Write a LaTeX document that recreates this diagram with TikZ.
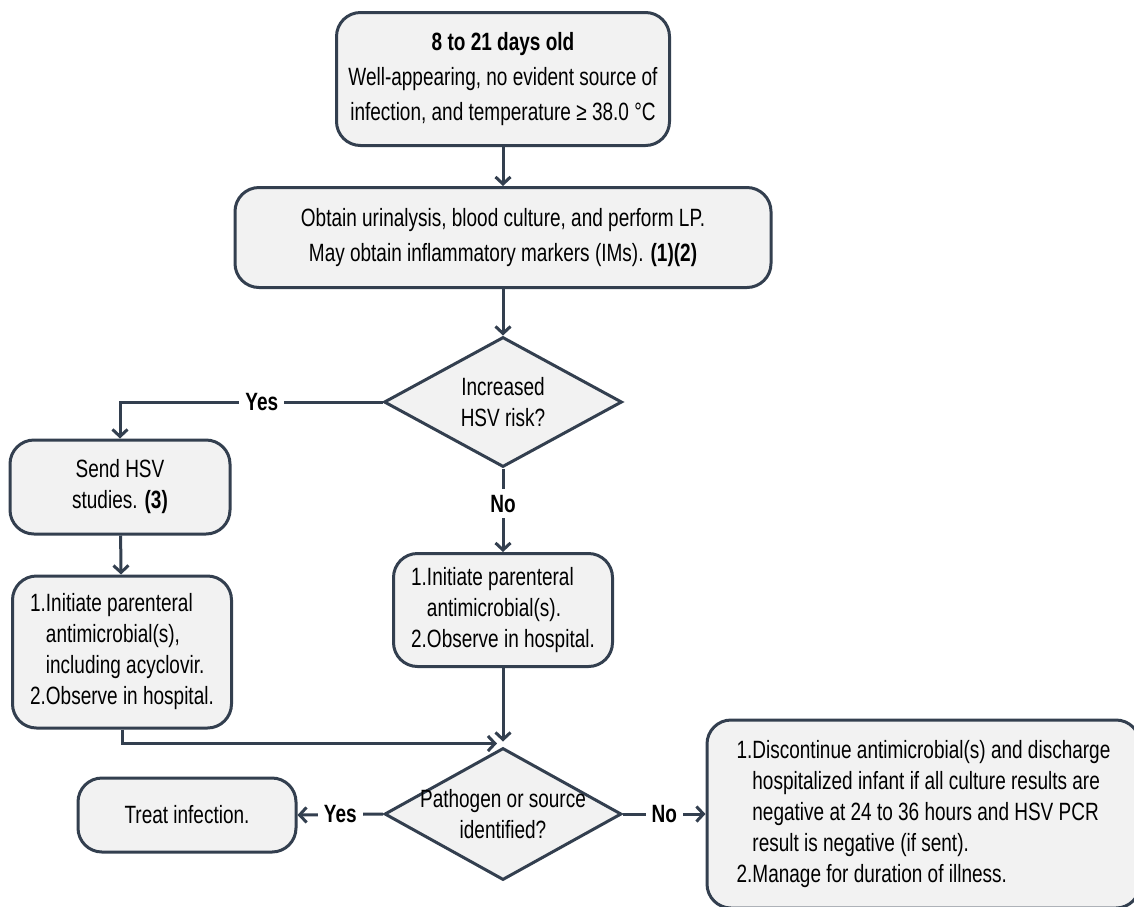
\documentclass[tikz,border=0pt]{standalone}
\usepackage{fontspec}
\setmainfont{Liberation Sans}[FakeStretch=0.76]
\usetikzlibrary{shapes.geometric,arrows.meta}
\definecolor{edgecol}{HTML}{333F4F}
\definecolor{boxfill}{HTML}{F2F2F2}
\tikzset{
  box/.style={draw=edgecol,fill=boxfill,line width=3pt,rounded corners=24pt,align=center,inner sep=0pt},
  dec/.style={draw=edgecol,fill=boxfill,line width=3pt,diamond,inner sep=0pt},
  arr/.style={draw=edgecol,line width=3pt,-{Straight Barb[length=7pt,width=15pt]}},
  lbl/.style={fill=white,font=\fontsize{25}{28}\selectfont\bfseries,inner sep=6pt},
  big/.style={font=\fontsize{25}{35}\selectfont},
}
\begin{document}
\begin{tikzpicture}[x=1pt,y=-1pt,font=\fontsize{25}{31}\selectfont]
  \useasboundingbox (0,0) rectangle (1134,906);
  \clip (0,0) rectangle (1134,906);
  \node[box,big,minimum width=333pt,minimum height=133pt] (age) at (503,79)
    {\textbf{8 to 21 days old}\\Well-appearing, no evident source of\\infection, and temperature ≥ 38.0 °C};
  \node[box,big,minimum width=536pt,minimum height=100pt] (labs) at (503,237.5)
    {Obtain urinalysis, blood culture, and perform LP.\\May obtain inflammatory markers (IMs). \textbf{(1)(2)}};
  \node[dec,minimum width=238pt,minimum height=130pt] (hsv) at (503,402) {};
  \node[align=center] (hsvtxt) at (hsv) {Increased\\HSV risk?};
  \node[box,minimum width=220pt,minimum height=94pt] (send) at (120,487)
    {Send HSV\\studies. \textbf{(3)}};
  \node[box,minimum width=219pt,minimum height=152pt] (acy) at (122,652)
    {\begin{tabular}{@{}l@{}l@{}}1.&Initiate parenteral\\&antimicrobial(s),\\&including acyclovir.\\2.&Observe in hospital.\end{tabular}};
  \node[box,minimum width=219pt,minimum height=113pt] (obs) at (503,610)
    {\begin{tabular}{@{}l@{}l@{}}1.&Initiate parenteral\\&antimicrobial(s).\\2.&Observe in hospital.\end{tabular}};
  \node[dec,minimum width=237pt,minimum height=132pt] (chk) at (503,814) {};
  \node[align=center] (chktxt) at (chk) {Pathogen or source\\identified?};
  \node[box,minimum width=218pt,minimum height=74pt] (treat) at (187,815) {Treat infection.};
  \node[box,minimum width=433pt,minimum height=188pt] (disc) at (923.5,814)
    {\begin{tabular}{@{}l@{}l@{}}1.&Discontinue antimicrobial(s) and discharge\\&hospitalized infant if all culture results are\\&negative at 24 to 36 hours and HSV PCR\\&result is negative (if sent).\\2.&Manage for duration of illness.\end{tabular}};

  \draw[arr] (age) -- (labs);
  \draw[arr] (labs) -- (hsv);
  \draw[arr] (hsv.west) -| node[lbl,pos=0.23] {Yes} (send.north);
  \draw[arr] (hsv.south) -- node[lbl,pos=0.42] {No} (obs.north);
  \draw[arr] (send) -- (acy);
  \draw[arr] (obs) -- ([yshift=5pt]chk.north);
  \draw[arr] (acy.south) |- ([xshift=-6pt,yshift=3pt]chk.north);
  \draw[arr] (chk.west) -- node[lbl] {Yes} (treat.east);
  \draw[arr] (chk.east) -- node[lbl] {No} (disc.west);
\end{tikzpicture}
\end{document}
